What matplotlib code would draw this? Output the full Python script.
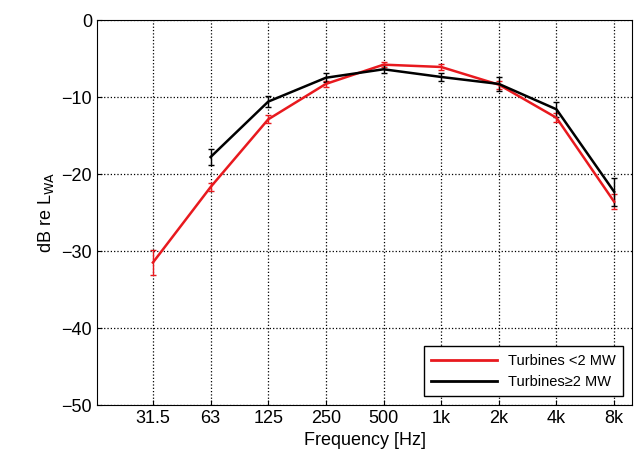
import matplotlib
matplotlib.use("Agg")
import matplotlib.pyplot as plt
from matplotlib.lines import Line2D
import numpy as np

plt.rcParams['font.family'] = ['Liberation Sans', 'DejaVu Sans']

labels = ["31.5","63","125","250","500","1k","2k","4k","8k"]
red = [-31.5,-21.7,-12.9,-8.3,-5.8,-6.1,-8.4,-12.7,-23.6]
red_err = [1.6,0.5,0.5,0.4,0.3,0.4,0.5,0.6,1.0]
blk = [np.nan,-17.8,-10.6,-7.5,-6.4,-7.4,-8.3,-11.6,-22.3]
blk_err = [0,1.0,0.7,0.6,0.5,0.5,0.9,1.0,1.8]

fig = plt.figure(figsize=(6.44,4.68), dpi=100)
ax = fig.add_axes([97/644, 1-405/468, (632-97)/644, (405-20)/468])
x = np.arange(len(labels))
ax.errorbar(x, red, yerr=red_err, color="#e8191e", lw=1.8, capsize=2, elinewidth=1)
ax.errorbar(x, blk, yerr=blk_err, color="black", lw=1.8, capsize=2, elinewidth=1)
ax.set_xlim(-0.97, 8.31)
ax.set_ylim(-50, 0)
ax.set_xticks(x)
ax.set_xticklabels(labels)
ax.set_yticks(range(-50, 1, 10))
ax.grid(True, color="black", linestyle=":", lw=0.9)
ax.tick_params(labelsize=13, direction="in")
ax.set_xlabel("Frequency [Hz]", fontsize=13)
ax.set_ylabel("dB re L$_{\\mathrm{WA}}$", fontsize=13)
handles = [Line2D([], [], color="#e8191e", lw=2), Line2D([], [], color="black", lw=2)]
ax.legend(handles, ["Turbines <2 MW", "Turbines≥2 MW"], loc="lower right", fontsize=10.5,
          fancybox=False, edgecolor="black", framealpha=1, borderaxespad=0.6,
          handlelength=4.5, labelspacing=0.5, borderpad=0.5)
fig.savefig("out.png", dpi=100)
